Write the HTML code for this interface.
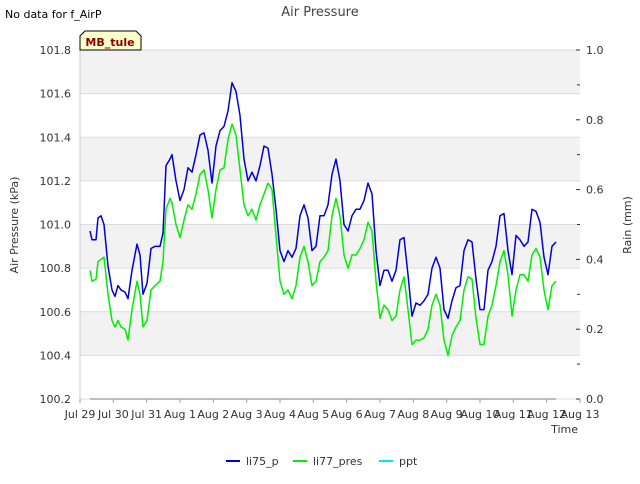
<!DOCTYPE html>
<html><head><meta charset="utf-8"><style>
body{margin:0;background:#fff;font-family:"DejaVu Sans","Liberation Sans",sans-serif;}
svg text{font-family:"DejaVu Sans","Liberation Sans",sans-serif;}
</style></head><body>
<svg id="c" width="640" height="480" xmlns="http://www.w3.org/2000/svg"></svg>
<script>
const xLabels=["Jul 29","Jul 30","Jul 31","Aug 1","Aug 2","Aug 3","Aug 4","Aug 5","Aug 6","Aug 7","Aug 8","Aug 9","Aug 10","Aug 11","Aug 12","Aug 13"];
const yTicks=[100.2,100.4,100.6,100.8,101.0,101.2,101.4,101.6,101.8];
const rTicks=[0.0,0.2,0.4,0.6,0.8,1.0];
const bluePx=[90,92,96,98,101,104,108,112,115,118,121,125,128,132,137,140,143,147,151,155,160,163,166,170,172,176,180,184,188,192,196,200,204,208,212,216,220,224,228,232,236,240,244,248,252,256,260,264,268,272,276,280,284,288,292,296,300,304,308,312,316,320,324,328,332,336,340,344,348,352,356,360,364,368,372,376,380,384,388,392,396,400,404,408,412,416,420,424,428,432,436,440,444,448,452,456,460,464,468,472,476,480,484,488,492,496,500,504,508,512,516,520,524,528,532,536,540,544,548,552,556];
const blueDays=bluePx.map(x=>+((x-80)/33.33).toFixed(2));
const blueVals=[100.97,100.93,100.93,101.03,101.04,101.0,100.81,100.70,100.67,100.72,100.70,100.69,100.66,100.79,100.91,100.86,100.68,100.73,100.89,100.90,100.90,100.96,101.27,101.30,101.32,101.20,101.11,101.16,101.26,101.24,101.32,101.41,101.42,101.34,101.19,101.36,101.43,101.45,101.52,101.65,101.61,101.50,101.30,101.20,101.24,101.20,101.27,101.36,101.35,101.23,101.07,100.88,100.83,100.88,100.85,100.89,101.04,101.09,101.03,100.88,100.90,101.04,101.04,101.09,101.23,101.30,101.20,101.00,100.97,101.04,101.07,101.07,101.11,101.19,101.14,100.88,100.72,100.79,100.79,100.74,100.79,100.93,100.94,100.77,100.58,100.64,100.63,100.65,100.68,100.80,100.85,100.80,100.61,100.57,100.65,100.71,100.72,100.88,100.93,100.92,100.75,100.61,100.61,100.79,100.83,100.90,101.04,101.05,100.88,100.77,100.95,100.93,100.90,100.92,101.07,101.06,101.01,100.85,100.77,100.90,100.92];
const greenDays=blueDays;
const greenVals=[100.79,100.74,100.75,100.83,100.84,100.85,100.68,100.56,100.53,100.56,100.53,100.52,100.47,100.61,100.74,100.68,100.53,100.56,100.70,100.72,100.74,100.83,101.07,101.12,101.10,101.00,100.94,101.02,101.09,101.07,101.14,101.23,101.25,101.16,101.03,101.16,101.25,101.26,101.39,101.46,101.41,101.25,101.09,101.04,101.07,101.02,101.09,101.14,101.19,101.16,100.95,100.74,100.68,100.70,100.66,100.72,100.85,100.90,100.83,100.72,100.74,100.83,100.85,100.88,101.04,101.12,101.04,100.86,100.80,100.86,100.86,100.89,100.93,101.01,100.97,100.74,100.57,100.63,100.61,100.56,100.58,100.70,100.76,100.61,100.45,100.47,100.47,100.48,100.52,100.63,100.68,100.63,100.47,100.40,100.49,100.53,100.56,100.70,100.76,100.75,100.57,100.45,100.45,100.58,100.63,100.72,100.83,100.88,100.77,100.58,100.70,100.77,100.77,100.74,100.86,100.89,100.85,100.70,100.61,100.72,100.74];
const pptDays=[0.3,14.28];
const pptVals=[0,0];

const X0=80,X1=580,Y0=50,Y1=399;
const xs=d=>X0+(X1-X0)*d/15;
const ys=v=>Y1-(Y1-Y0)*(v-100.2)/1.6;
const rs=v=>Y1-(Y1-Y0)*v/1.0;
const svg=document.getElementById('c');
const NS="http://www.w3.org/2000/svg";
function mk(tag,attrs,name,txt){const e=document.createElementNS(NS,tag);for(const k in attrs)e.setAttribute(k,attrs[k]);


if(txt!==undefined)e.textContent=txt;svg.appendChild(e);return e;}
mk('rect',{x:X0,y:Y0,width:X1-X0,height:Y1-Y0,fill:'#fff'},'plot-background');
for(let i=0;i<yTicks.length-1;i++){
  if(i%2===1) mk('rect',{x:X0,y:ys(yTicks[i+1]),width:X1-X0,height:ys(yTicks[i])-ys(yTicks[i+1]),fill:'#f2f2f2'},'grid-band');
}
yTicks.forEach(v=>{mk('line',{x1:X0,x2:X1,y1:ys(v),y2:ys(v),stroke:'#dcdcdc','stroke-width':1},'y-gridline');
 mk('text',{x:X0-9,y:ys(v)+4,'text-anchor':'end','font-size':11,fill:'#333'},'y-tick-label',v.toFixed(1));});
mk('line',{x1:X0,x2:X0,y1:Y0,y2:Y1,stroke:'#ccc'},'y-axis-line');
xLabels.forEach((l,i)=>{mk('line',{x1:xs(i),x2:xs(i),y1:Y1,y2:Y1+4,stroke:'#999'},'x-tick');
 mk('text',{x:xs(i),y:Y1+19,'text-anchor':'middle','font-size':11,fill:'#333'},'x-tick-label',l);});
rTicks.forEach(v=>{mk('line',{x1:X1-4,x2:X1,y1:rs(v),y2:rs(v),stroke:'#333'},'right-tick');
 mk('text',{x:X1+6,y:rs(v)+4,'font-size':11,fill:'#333'},'right-tick-label',v.toFixed(1));});
for(let v=0.1;v<1;v+=0.2) mk('line',{x1:X1-3,x2:X1,y1:rs(v),y2:rs(v),stroke:'#333'},'right-minor-tick');
function line(d,v,f,col,name){mk('polyline',{points:d.map((x,i)=>xs(x)+','+f(v[i])).join(' '),fill:'none',stroke:col,'stroke-width':1.5,'stroke-linejoin':'round'},name);}
line(greenDays,greenVals,ys,'#00ee00','series-li77-pres');
line(blueDays,blueVals,ys,'#0000dd','series-li75-p');
line(pptDays,pptVals,rs,'#aaaaaa','series-ppt');
mk('text',{x:320,y:16,'text-anchor':'middle','font-size':13,fill:'#444'},'chart-title','Air Pressure');
mk('text',{x:5,y:18,'font-size':11,fill:'#000'},'no-data-note','No data for f_AirP');
mk('path',{d:'M80,50 L80,36 L85,31 L136,31 L141,36 L141,50 Z',fill:'#ffffcc',stroke:'#000','stroke-width':1},'site-label-box');
mk('text',{x:110,y:46,'text-anchor':'middle','font-size':11,'font-weight':'bold',fill:'#8b0000'},'site-label','MB_tule');
mk('text',{x:18,y:225,'text-anchor':'middle','font-size':11,fill:'#333',transform:'rotate(-90 18 225)'},'y-axis-title','Air Pressure (kPa)');
mk('text',{x:631,y:225,'text-anchor':'middle','font-size':11,fill:'#333',transform:'rotate(-90 631 225)'},'right-axis-title','Rain (mm)');
mk('text',{x:578,y:433,'text-anchor':'end','font-size':11,fill:'#333'},'x-axis-title','Time');
[[226,'#0000dd','li75_p','legend-li75-p'],[293,'#00ee00','li77_pres','legend-li77-pres'],[379,'#00e5ee','ppt','legend-ppt']].forEach(([x,c,t,n])=>{
 mk('line',{x1:x,x2:x+14,y1:461,y2:461,stroke:c,'stroke-width':2},n+'-swatch');
 mk('text',{x:x+20,y:465,'font-size':11,fill:'#333'},n,t);});
</script>
</body></html>
